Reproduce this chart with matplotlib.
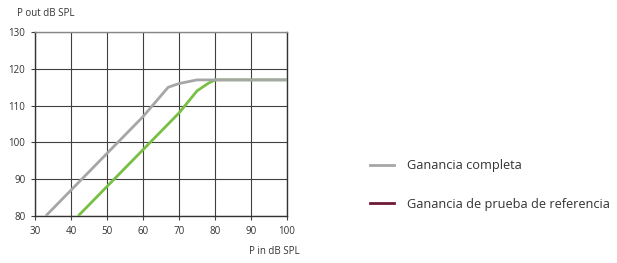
import numpy as np
import matplotlib.pyplot as plt
from matplotlib.lines import Line2D

# datos
full_x = [33, 35, 40, 50, 60, 67, 70, 75, 80, 100]
full_y = [80, 82, 87, 97, 107, 115, 116, 117, 117, 117]
ref_x = [42, 50, 60, 70, 75, 78, 80, 100]
ref_y = [80, 88, 98, 108, 114, 116, 117, 117]
labels = ['Ganancia completa', 'Ganancia de prueba de referencia']

plt.rcParams['font.family'] = ['Open Sans', 'DejaVu Sans']

fig = plt.figure(figsize=(6.17, 2.63), dpi=100)
ax = fig.add_axes([0.0567, 0.179, 0.4085, 0.699])

ax.plot(ref_x, ref_y, color='#78c043', lw=2, solid_capstyle='butt', zorder=3)
ax.plot(full_x, full_y, color='#a6a6a8', lw=2, solid_capstyle='butt', zorder=4)

ax.set_xlim(30, 100)
ax.set_ylim(80, 130)
ax.set_xticks(np.arange(30, 101, 10))
ax.set_yticks(np.arange(80, 131, 10))
ax.grid(True, color='#404040', lw=0.8)
ax.tick_params(labelsize=7, length=3, color='#404040', labelcolor='#333333', pad=4)
for s in ax.spines.values():
    s.set_color('#333333')
    s.set_linewidth(1)
ax.spines['top'].set_color('#888888')

fig.text(17/617, 1 - 13/263, 'P out dB SPL', fontsize=7, color='#333333', va='center')
fig.text(300/617, 1 - 252/263, 'P in dB SPL', fontsize=7, color='#333333', va='center', ha='right')

handles = [Line2D([0], [0], color='#a6a6a8', lw=2),
           Line2D([0], [0], color='#6e1a37', lw=2)]
fig.legend(handles, labels, loc='center left', bbox_to_anchor=(358/617, 1 - 185/263),
           frameon=False, fontsize=9.2, labelcolor='#333333', handlelength=1.9,
           labelspacing=2.0, handletextpad=1.0)

fig.savefig('out.png', dpi=100)
